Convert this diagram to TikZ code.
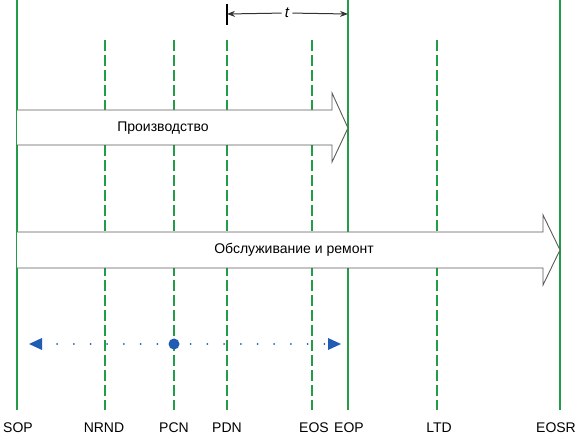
\documentclass[tikz,border=0pt]{standalone}
\usepackage{fontspec}
\setmainfont{Liberation Sans}
\usetikzlibrary{arrows.meta}
\definecolor{lgreen}{RGB}{34,156,70}
\definecolor{dblue}{RGB}{32,92,180}
\definecolor{agray}{RGB}{90,90,90}
\begin{document}
\begin{tikzpicture}[x=1pt,y=-1pt,
  solidline/.style={lgreen,line width=1.5pt},
  dashline/.style={lgreen,line width=1.5pt,dash pattern=on 11pt off 4pt},
  bigarrow/.style={draw=agray,fill=white,line width=0.9pt,line join=miter},
  lbl/.style={font=\fontsize{14}{16}\selectfont,inner sep=0pt,anchor=base},
  atext/.style={font=\fontsize{14}{16}\selectfont,inner sep=0pt},
  dotline/.style={dblue,line width=2pt,dash pattern=on 0pt off 16.7pt,line cap=round}]
\useasboundingbox (0,0) rectangle (578,435);
% label nodes
\node[lbl] (sop) at (18,432) {SOP};
\node[lbl] (nrnd) at (104,432) {NRND};
\node[lbl] (pcn) at (174,432) {PCN};
\node[lbl] (pdn) at (227,432) {PDN};
\node[lbl] (eos) at (314,432) {EOS};
\node[lbl] (eop) at (349,432) {EOP};
\node[lbl] (ltd) at (439,432) {LTD};
\node[lbl] (eosr) at (556,432) {EOSR};
% vertical lines
\coordinate (sopT) at (17,0);   \coordinate (sopB) at (17,410);
\coordinate (nrndT) at (105,40); \coordinate (nrndB) at (105,410);
\coordinate (pcnT) at (174,40); \coordinate (pcnB) at (174,410);
\coordinate (pdnT) at (227,40); \coordinate (pdnB) at (227,410);
\coordinate (eosT) at (312,40); \coordinate (eosB) at (312,410);
\coordinate (eopT) at (348,0);  \coordinate (eopB) at (348,410);
\coordinate (ltdT) at (437,40); \coordinate (ltdB) at (437,410);
\coordinate (eosrT) at (560,0); \coordinate (eosrB) at (560,410);
\draw[solidline] (sopT) -- (sopB);
\draw[solidline] (eopT) -- (eopB);
\draw[solidline] (eosrT) -- (eosrB);
\draw[dashline] (nrndT) -- (nrndB);
\draw[dashline] (pcnT) -- (pcnB);
\draw[dashline] (pdnT) -- (pdnB);
\draw[dashline] (eosT) -- (eosB);
\draw[dashline] (ltdT) -- (ltdB);
% t interval
\coordinate (tickT) at (227,4); \coordinate (tickB) at (227,25);
\draw[black,line width=1.2pt] (tickT) -- (tickB);
\node[font=\itshape\fontsize{15}{16}\selectfont,inner sep=3pt] (t) at (287,13) {t};
\coordinate (tL) at (227,14); \coordinate (tR) at (348,14);
\draw[-{Stealth[length=8pt,width=6pt]},line width=1pt,black!80] (t) -- (tL);
\draw[-{Stealth[length=8pt,width=6pt]},line width=1pt,black!80] (t) -- (tR);
% big arrows
\draw[bigarrow] (17,110) -- (332,110) -- (332,93) -- (348,128) -- (332,162) -- (332,145) -- (17,145);
\node[atext] (prod) at (163,128) {Производство};
\draw[bigarrow] (17,232) -- (543,232) -- (543,215) -- (560,250) -- (543,285) -- (543,268) -- (17,268);
\node[atext] (serv) at (294,250) {Обслуживание и ремонт};
% dotted timeline
\node[circle,fill=dblue,inner sep=0pt,minimum size=11pt] (dot) at (174,344) {};
\coordinate (dl) at (29,344); \coordinate (dr) at (341,344);
\draw[dotline] (dot) ++(-16.7,0) -- (50,344);
\draw[dotline] (dot) ++(16.7,0) -- (330,344);
\fill[dblue] (dl) -- ++(13,-6) -- ++(0,12) -- cycle;
\fill[dblue] (dr) -- ++(-13,-6) -- ++(0,12) -- cycle;
\end{tikzpicture}
\end{document}
